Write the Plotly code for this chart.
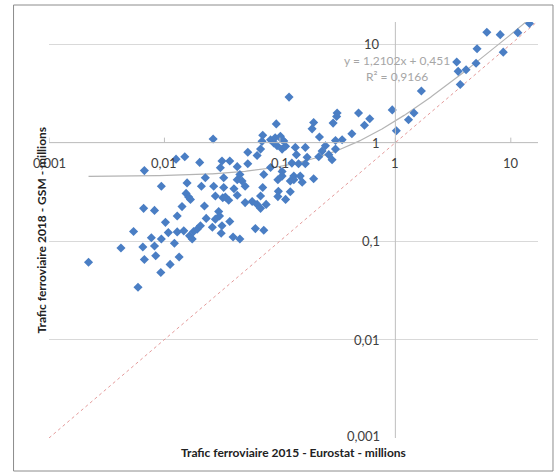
import numpy as np
import plotly.graph_objects as go

# Trafic ferroviaire 2015 - Eurostat (millions)
x_eurostat_2015 = [
    0.0022, 0.0042, 0.0054, 0.0059, 0.0065, 0.0066, 0.0067, 0.0067, 0.0077, 0.0082,
    0.0082, 0.0084, 0.0093, 0.0094, 0.0094, 0.0102, 0.0108, 0.0112, 0.0122, 0.0126,
    0.0129, 0.0129, 0.0134, 0.0142, 0.0147, 0.015, 0.0154, 0.0157, 0.0162, 0.0165,
    0.0168, 0.0174, 0.0179, 0.0192, 0.0202, 0.0205, 0.0209, 0.0222, 0.0226, 0.023,
    0.026, 0.0264, 0.0267, 0.0276, 0.0276, 0.0295, 0.030, 0.0305, 0.031, 0.0315,
    0.0315, 0.032, 0.0326, 0.0326, 0.0337, 0.036, 0.0368, 0.0368, 0.0393, 0.040,
    0.0427, 0.0427, 0.0427, 0.045, 0.045, 0.047, 0.050, 0.050, 0.0527, 0.0527,
    0.0575, 0.0613, 0.0635, 0.0635, 0.068, 0.068, 0.068, 0.070, 0.071, 0.071,
    0.0725, 0.0725, 0.076, 0.083, 0.083, 0.0885, 0.091, 0.093, 0.0945, 0.096,
    0.097, 0.096, 0.101, 0.1045, 0.1045, 0.1045, 0.1045, 0.108, 0.112, 0.112,
    0.12, 0.123, 0.123, 0.127, 0.132, 0.132, 0.136, 0.139, 0.145, 0.15,
    0.156, 0.166, 0.166, 0.172, 0.19, 0.196, 0.196, 0.217, 0.22, 0.232,
    0.248, 0.265, 0.283, 0.289, 0.303, 0.303, 0.313, 0.31, 0.346, 0.42,
    0.48, 0.54, 0.6, 0.94, 1.02, 1.30, 1.45, 1.68, 3.4, 3.5,
    3.65, 4.1, 5.0, 5.1, 6.2, 8.1, 8.6, 11.5, 14.5,
]
# Trafic ferroviaire 2018 - GSM (millions)
y_gsm_2018 = [
    0.061, 0.085, 0.125, 0.034, 0.087, 0.215, 0.52, 0.065, 0.108, 0.205,
    0.089, 0.071, 0.048, 0.36, 0.105, 0.155, 0.122, 0.058, 0.095, 0.68,
    0.18, 0.124, 0.069, 0.224, 0.127, 0.72, 0.305, 0.39, 0.28, 0.113,
    0.265, 0.105, 0.125, 0.132, 0.63, 0.143, 0.36, 0.227, 0.44, 0.17,
    0.138, 1.09, 0.36, 0.287, 0.167, 0.2, 0.18, 0.555, 0.12, 0.65,
    0.143, 0.276, 0.44, 0.35, 0.28, 0.26, 0.65, 0.158, 0.11, 0.34,
    0.57, 0.42, 0.292, 0.475, 0.105, 0.407, 0.36, 0.246, 0.8, 0.61,
    0.252, 0.134, 0.74, 0.236, 0.86, 0.287, 0.215, 1.03, 1.19, 0.35,
    0.475, 0.129, 0.236, 1.07, 0.56, 0.99, 1.12, 1.55, 0.93, 0.42,
    0.32, 0.283, 1.16, 1.07, 0.86, 0.51, 0.457, 1.04, 0.92, 0.265,
    2.9, 0.407, 0.317, 0.62, 0.457, 0.42, 0.895, 0.755, 0.61, 0.457,
    0.397, 0.895, 0.61, 0.71, 1.38, 1.6, 0.43, 0.72, 1.14, 0.82,
    0.93, 0.755, 0.67, 1.58, 1.05, 0.86, 2.0, 1.84, 1.07, 1.23,
    2.0, 1.5, 1.75, 2.15, 1.32, 1.71, 2.0, 3.35, 6.6, 5.3,
    3.9, 5.5, 6.4, 9.0, 13.2, 12.5, 8.3, 13.1, 16.2,
]

tick_values = [0.001, 0.01, 0.1, 1, 10]
tick_labels = ["0,001", "0,01", "0,1", "1", "10"]

trend_slope = 1.2102
trend_intercept = 0.451
trend_text = "y = 1,2102x + 0,451<br>R² = 0,9166"

x_range = [0.001, 17.2]
y_range = [0.001, 16.8]
axis_cross = 1

W, H = 554, 473
ML, MR, MT, MB = 48.5, 16, 22, 35
pw, ph = W - ML - MR, H - MT - MB

font_family = "Lato, 'Open Sans', Arial, sans-serif"
label_color = "#404040"
grid_color = "#D9D9D9"
axis_color = "#BFBFBF"
marker_color = "#4A7EC4"

fig = go.Figure()

# y = x reference line
fig.add_trace(go.Scatter(
    x=[x_range[0], min(x_range[1], y_range[1])],
    y=[x_range[0], min(x_range[1], y_range[1])],
    mode="lines", line=dict(color="#E49A9A", width=1, dash="dot"),
    hoverinfo="skip", showlegend=False))

# linear trend line (Excel trendline shown on log axes)
tx = np.geomspace(min(x_eurostat_2015), max(x_eurostat_2015), 300)
ty = trend_slope * tx + trend_intercept
fig.add_trace(go.Scatter(
    x=tx, y=ty, mode="lines", line=dict(color="#B4B4B4", width=1.2),
    hoverinfo="skip", showlegend=False))

fig.add_trace(go.Scatter(
    x=x_eurostat_2015, y=y_gsm_2018, mode="markers",
    marker=dict(symbol="diamond", size=7, color=marker_color, line=dict(width=0)),
    showlegend=False))

shapes = []
# vertical axis line at x = 1
shapes.append(dict(type="line", xref="x", yref="y", x0=axis_cross, x1=axis_cross,
                   y0=y_range[0], y1=y_range[1], line=dict(color=axis_color, width=1)))
# horizontal axis line at y = 1
shapes.append(dict(type="line", xref="x", yref="y", x0=x_range[0], x1=x_range[1],
                   y0=axis_cross, y1=axis_cross, line=dict(color=axis_color, width=1)))
# small ticks on horizontal axis
for tv in tick_values:
    shapes.append(dict(type="line", xref="x", yref="y", x0=tv, x1=tv,
                       ysizemode="pixel", yanchor=axis_cross, y0=0, y1=5,
                       line=dict(color=axis_color, width=1)))
# chart frame
shapes.append(dict(type="rect", xref="paper", yref="paper",
                   x0=(13 - ML) / pw, x1=(553 - ML) / pw,
                   y0=(ph + MT - 471) / ph, y1=(ph + MT - 5) / ph,
                   line=dict(color="#8C8C8C", width=1), fillcolor="rgba(0,0,0,0)", layer="below"))

annotations = []
for tv, tl in zip(tick_values, tick_labels):
    annotations.append(dict(x=np.log10(tv), y=np.log10(axis_cross), xref="x", yref="y",
                            text=tl, showarrow=False, xanchor="center", yanchor="middle",
                            yshift=-20, font=dict(family=font_family, size=13, color=label_color)))
    annotations.append(dict(x=np.log10(axis_cross), y=np.log10(tv), xref="x", yref="y",
                            text=tl, showarrow=False, xanchor="right", yanchor="middle",
                            xshift=-13, yshift=(2 if tv == tick_values[0] else 0),
                            font=dict(family=font_family, size=13, color=label_color)))

annotations.append(dict(x=np.log10(axis_cross), y=np.log10(5.6), xref="x", yref="y",
                        text=trend_text, showarrow=False, xanchor="center", yanchor="middle",
                        xshift=2, align="center",
                        font=dict(family=font_family, size=12, color="#A6A6A6")))

annotations.append(dict(x=(293 - ML) / pw, y=-(452 - MT - ph) / ph, xref="paper", yref="paper",
                        text="<b>Trafic ferroviaire 2015 - Eurostat - millions</b>",
                        showarrow=False, xanchor="center", yanchor="middle",
                        font=dict(family=font_family, size=12, color="#222222")))
annotations.append(dict(x=(40 - ML) / pw, y=(ph + MT - 230) / ph, xref="paper", yref="paper",
                        text="<b>Trafic ferroviaire 2018 - GSM - millions</b>", textangle=-90,
                        showarrow=False, xanchor="center", yanchor="middle",
                        font=dict(family=font_family, size=12, color="#222222")))

fig.update_layout(
    width=W, height=H,
    margin=dict(l=ML, r=MR, t=MT, b=MB, pad=0),
    paper_bgcolor="white", plot_bgcolor="white",
    shapes=shapes, annotations=annotations,
    showlegend=False,
    xaxis=dict(type="log", range=[np.log10(x_range[0]), np.log10(x_range[1])],
               showgrid=False, zeroline=False, showticklabels=False, ticks="",
               showline=False),
    yaxis=dict(type="log", range=[np.log10(y_range[0]), np.log10(y_range[1])],
               showgrid=True, gridcolor=grid_color, gridwidth=1,
               tickvals=tick_values, zeroline=False, showticklabels=False, ticks="",
               showline=False),
)

fig.write_html("out.html", config={"displayModeBar": False},
               post_script="document.body.style.margin='0px';document.body.style.overflow='hidden';")
